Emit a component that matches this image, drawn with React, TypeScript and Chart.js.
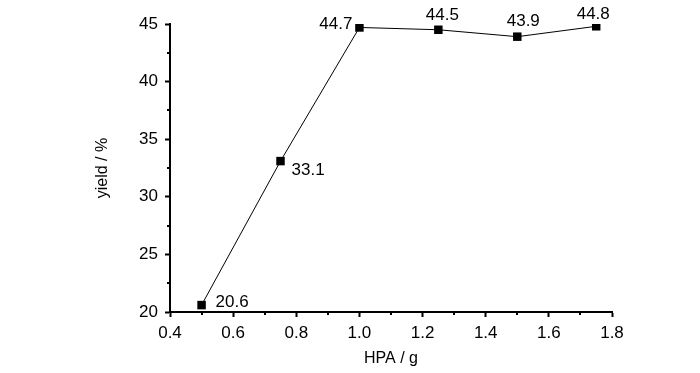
import React, { useEffect, useRef } from "react";
import { Chart, registerables } from "chart.js";

Chart.register(...registerables);

const hpa = [0.5, 0.75, 1.0, 1.25, 1.5, 1.75];
const yieldVals = [20.6, 33.1, 44.7, 44.5, 43.9, 44.8];
const yieldLabels = ["20.6", "33.1", "44.7", "44.5", "43.9", "44.8"];
const xTicks = [0.4, 0.6, 0.8, 1.0, 1.2, 1.4, 1.6, 1.8];
const yTicks = [20, 25, 30, 35, 40, 45];

const FONT = "'Liberation Sans', Arial, sans-serif";

// label placement relative to each point: [dx, dy, align]
const labelPlacement: [number, number, CanvasTextAlign][] = [
  [14, -3, "left"],
  [11, 9, "left"],
  [-7, -3, "right"],
  [4, -14, "center"],
  [6, -15, "center"],
  [-3, -12, "center"],
];

const pointLabels = {
  id: "pointLabels",
  afterDatasetsDraw(chart: any) {
    const meta = chart.getDatasetMeta(0);
    const ctx = chart.ctx;
    ctx.save();
    ctx.font = `17px ${FONT}`;
    ctx.fillStyle = "#000";
    ctx.textBaseline = "middle";
    meta.data.forEach((pt: any, i: number) => {
      const [dx, dy, align] = labelPlacement[i];
      ctx.textAlign = align;
      ctx.fillText(yieldLabels[i], pt.x + dx, pt.y + dy);
    });
    ctx.restore();
  },
};

const minorTicks = {
  id: "minorTicks",
  afterDraw(chart: any) {
    const ctx = chart.ctx;
    const xs = chart.scales.x;
    const ys = chart.scales.y;
    ctx.save();
    ctx.strokeStyle = "#000";
    ctx.lineWidth = 2;
    ctx.beginPath();
    for (let i = 0; i < xTicks.length - 1; i++) {
      const v = (xTicks[i] + xTicks[i + 1]) / 2;
      const px = Math.round(xs.getPixelForValue(v));
      ctx.moveTo(px, ys.bottom);
      ctx.lineTo(px, ys.bottom + 3);
    }
    for (let i = 0; i < yTicks.length - 1; i++) {
      const v = (yTicks[i] + yTicks[i + 1]) / 2;
      const py = Math.round(ys.getPixelForValue(v));
      ctx.moveTo(xs.left, py);
      ctx.lineTo(xs.left - 3, py);
    }
    ctx.stroke();
    ctx.restore();
  },
};

export default function App() {
  const ref = useRef<HTMLCanvasElement>(null);
  useEffect(() => {
    if (!ref.current) return;
    const chart = new Chart(ref.current, {
      type: "line",
      data: {
        datasets: [
          {
            data: hpa.map((x, i) => ({ x, y: yieldVals[i] })),
            borderColor: "#000",
            borderWidth: 1,
            backgroundColor: "#000",
            pointStyle: "rect",
            pointRadius: 6,
            pointBorderWidth: 0,
            pointBackgroundColor: "#000",
            tension: 0,
          },
        ],
      },
      options: {
        responsive: false,
        animation: false,
        events: [],
        layout: { padding: { left: 0, top: 24, right: 88, bottom: 0 } },
        plugins: { legend: { display: false }, tooltip: { enabled: false } },
        scales: {
          x: {
            type: "linear",
            min: 0.4,
            max: 1.8,
            afterFit: (s: any) => {
              s.height = 61;
            },
            afterBuildTicks: (s: any) => {
              s.ticks = xTicks.map((v) => ({ value: v }));
            },
            ticks: {
              color: "#000",
              font: { size: 17, family: FONT },
              padding: 6,
              maxRotation: 0,
              callback: (v: any) => Number(v).toFixed(1),
            },
            grid: {
              drawOnChartArea: false,
              tickLength: 5,
              tickColor: "#000",
              tickWidth: 2,
            },
            border: { color: "#000", width: 2 },
            title: {
              display: true,
              text: "HPA / g",
              color: "#000",
              font: { size: 16, family: FONT },
              padding: { top: 0, bottom: 5 },
            },
          },
          y: {
            min: 20,
            max: 45,
            afterFit: (s: any) => {
              s.width = 170;
            },
            afterBuildTicks: (s: any) => {
              s.ticks = yTicks.map((v) => ({ value: v }));
            },
            ticks: {
              color: "#000",
              font: { size: 17, family: FONT },
              padding: 7,
              callback: (v: any) => String(v),
            },
            grid: {
              drawOnChartArea: false,
              tickLength: 5,
              tickColor: "#000",
              tickWidth: 2,
            },
            border: { color: "#000", width: 2 },
            title: {
              display: true,
              text: "yield / %",
              color: "#000",
              font: { size: 16, family: FONT },
              padding: { top: 93, bottom: 0 },
            },
          },
        },
      },
      plugins: [pointLabels, minorTicks],
    });
    return () => chart.destroy();
  }, []);
  return (
    <div style={{ position: "fixed", left: 0, top: 0, width: 700, height: 373, background: "#fff" }}>
      <canvas ref={ref} width={700} height={373} style={{ display: "block" }} />
    </div>
  );
}
